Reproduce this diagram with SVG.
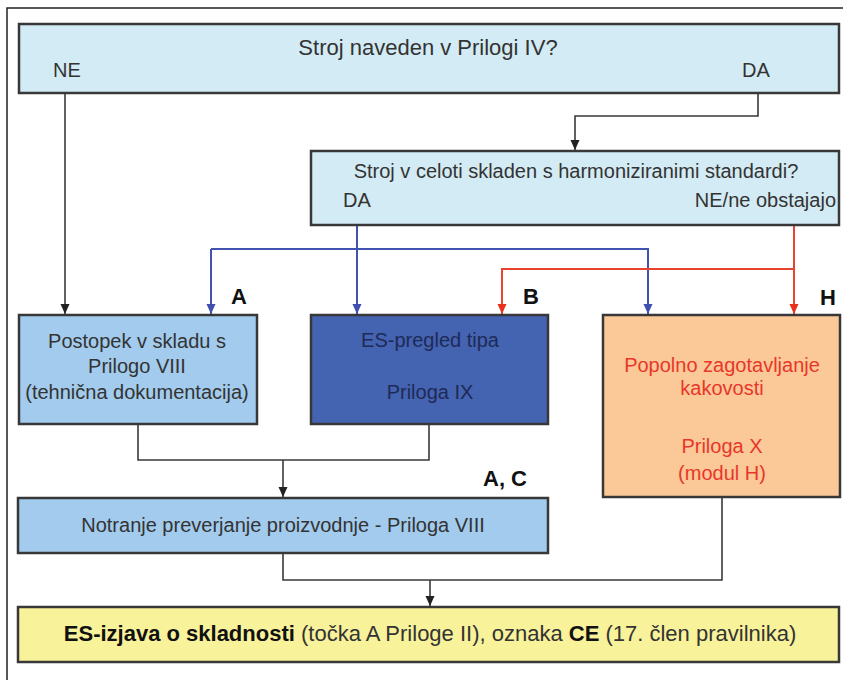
<svg xmlns="http://www.w3.org/2000/svg" width="843" height="680" viewBox="0 0 843 680">
<style>
text{font-family:"Liberation Sans",Arial,sans-serif;font-size:20px;fill:#333}
.c{text-anchor:middle}
.e{text-anchor:end}
.big{font-size:22px}
.box{stroke:#383838;stroke-width:2.5}
.lbl{font-weight:bold;fill:#111;font-size:22px}
.red{fill:#e8372a}
.navy{fill:#1e2a58}
.k{fill:none;stroke:#3a3a3a;stroke-width:1.6}
.b{fill:none;stroke:#4152b0;stroke-width:2}
.r{fill:none;stroke:#e8432e;stroke-width:2}
</style>
<defs>
<marker id="ak" markerUnits="userSpaceOnUse" markerWidth="12" markerHeight="12" viewBox="0 0 12 12" refX="10" refY="6" orient="auto"><path d="M0,1.5 L10,6 L0,10.5 Z" fill="#222"/></marker>
<marker id="ab" markerUnits="userSpaceOnUse" markerWidth="12" markerHeight="12" viewBox="0 0 12 12" refX="10" refY="6" orient="auto"><path d="M0,1.5 L10,6 L0,10.5 Z" fill="#3f50b0"/></marker>
<marker id="ar" markerUnits="userSpaceOnUse" markerWidth="12" markerHeight="12" viewBox="0 0 12 12" refX="10" refY="6" orient="auto"><path d="M0,1.5 L10,6 L0,10.5 Z" fill="#e8321f"/></marker>
</defs>
<rect width="843" height="680" fill="#fff"/>
<path d="M7,690 V8 H850" fill="none" stroke="#222" stroke-width="1.5"/>
<g id="connectors">
<path class="k" d="M65,93 V314" marker-end="url(#ak)"/>
<path class="k" d="M758,93 V116 H575 V150" marker-end="url(#ak)"/>
<path class="b" d="M357,225 V314" marker-end="url(#ab)"/>
<path class="b" d="M211,249 H648 V314" marker-end="url(#ab)"/>
<path class="b" d="M211,249 V314" marker-end="url(#ab)"/>
<path class="r" d="M794,225 V314" marker-end="url(#ar)"/>
<path class="r" d="M794,269 H502 V314" marker-end="url(#ar)"/>
<path class="k" d="M138,424 V460 H429 V424"/>
<path class="k" d="M283,460 V497" marker-end="url(#ak)"/>
<path class="k" d="M722,497 V580 H283 V553"/>
<path class="k" d="M430,580 V606" marker-end="url(#ak)"/>
</g>
<g id="q1">
<rect class="box" x="19" y="24" width="820" height="69" fill="#d3ebf4"/>
<text class="c big" x="428" y="55">Stroj naveden v Prilogi IV?</text>
<text x="53" y="77">NE</text>
<text x="742" y="77">DA</text>
</g>
<g id="q2">
<rect class="box" x="311" y="151" width="528" height="74" fill="#d3ebf4"/>
<text class="c" x="576" y="178">Stroj v celoti skladen s harmoniziranimi standardi?</text>
<text x="343" y="207">DA</text>
<text class="e" x="836" y="207">NE/ne obstajajo</text>
</g>
<g id="postopek">
<rect class="box" x="19" y="315" width="238" height="109" fill="#a2cbed"/>
<text class="c" x="137" y="348">Postopek v skladu s</text>
<text class="c" x="137" y="373">Prilogo VIII</text>
<text class="c" x="137" y="399">(tehnična dokumentacija)</text>
<text class="lbl" x="231" y="304">A</text>
</g>
<g id="pregled">
<rect class="box" x="311" y="315" width="237" height="109" fill="#4463b0"/>
<text class="c navy" x="430" y="347">ES-pregled tipa</text>
<text class="c navy" x="430" y="399">Priloga IX</text>
<text class="lbl" x="523" y="304">B</text>
</g>
<g id="kakovost">
<rect class="box" x="603" y="315" width="237" height="182" fill="#fbc898"/>
<text class="c red" x="722" y="372">Popolno zagotavljanje</text>
<text class="c red" x="722" y="395">kakovosti</text>
<text class="c red" x="722" y="453">Priloga X</text>
<text class="c red" x="722" y="480">(modul H)</text>
<text class="lbl" x="820" y="305">H</text>
</g>
<g id="notranje">
<rect class="box" x="18" y="498" width="530" height="55" fill="#a2cbed"/>
<text class="c" x="283" y="532">Notranje preverjanje proizvodnje - Priloga VIII</text>
<text class="lbl" x="483" y="486">A, C</text>
</g>
<g id="izjava">
<rect class="box" x="18" y="607" width="821" height="55" fill="#f8f29a"/>
<text class="c big" x="430" y="641"><tspan font-weight="bold" fill="#111">ES-izjava o skladnosti</tspan> (točka A Priloge II), oznaka <tspan font-weight="bold" fill="#111">CE</tspan> (17. člen pravilnika)</text>
</g>
</svg>
